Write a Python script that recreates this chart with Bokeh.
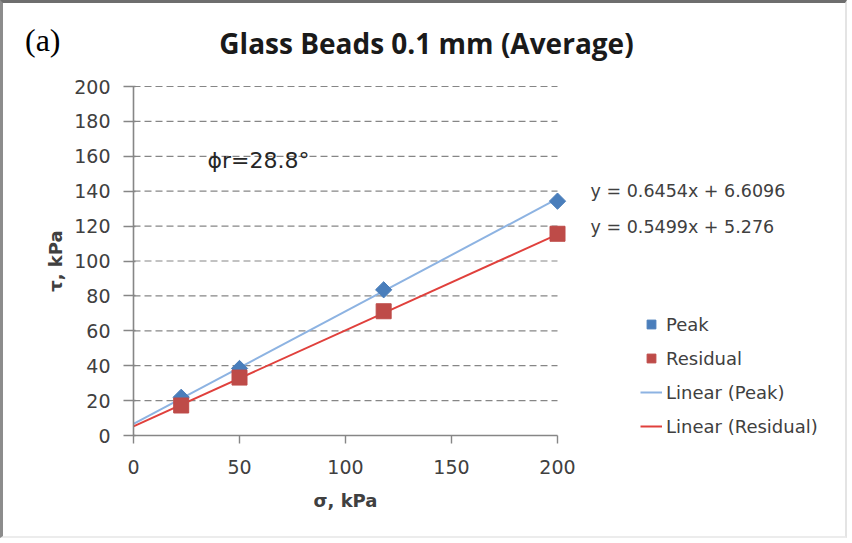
import math

from bokeh.embed import file_html
from bokeh.models import (FixedTicker, Label, Legend, LegendItem, LinearAxis,
                          Range1d)
from bokeh.plotting import figure
from bokeh.resources import INLINE

# Direct shear results, glass beads 0.1 mm (average of tests)
sigma = [22.5, 50.0, 118.0, 200.0]          # normal stress, kPa
tau_peak = [21.9, 38.4, 83.5, 134.3]        # peak shear stress, kPa
tau_residual = [17.2, 33.2, 71.2, 115.6]    # residual shear stress, kPa

# Linear trendlines (slope, intercept)
peak_fit = (0.6454, 6.6096)
residual_fit = (0.5499, 5.276)
fit_x = [0.0, 200.0]

x_ticks = [0, 50, 100, 150, 200]
y_ticks = [0, 20, 40, 60, 80, 100, 120, 140, 160, 180, 200]

BLUE = "#4A7EBB"
RED = "#BE4B48"
BLUE_LINE = "#8DB3E2"
RED_LINE = "#E0403C"
AXIS = "#868686"
TXT = "#404040"
SANS = "DejaVu Sans"

# page frame: borders drawn around the figure element
BL, BT, BR, BB = 3, 3, 2, 2
W, H = 852 - BL - BR, 543 - BT - BB

# plot scale: x 0..200 over 424 px, y 0..200 over 349 px
PX_X = 424 / 200
PX_Y = 349 / 200
FRAME_L = 133 - BL           # left edge of the frame inside the figure
FRAME_B = 435 - BT           # bottom edge of the frame inside the figure
x_end = (W - FRAME_L) / PX_X
y_end = FRAME_B / PX_Y

p = figure(width=W, height=H, output_backend="svg", toolbar_location=None,
           x_range=Range1d(0, x_end), y_range=Range1d(0, y_end),
           min_border_left=FRAME_L, min_border_right=0,
           min_border_top=0, min_border_bottom=H - FRAME_B)
p.styles = {"border-top": f"{BT}px solid #6e6e6e",
            "border-left": f"{BL}px solid #8c8c8c",
            "border-right": f"{BR}px solid #e4e4e4",
            "border-bottom": f"{BB}px solid #ececec"}
p.background_fill_color = "white"
p.border_fill_color = "white"
p.outline_line_color = None

# main axes
for ax in (p.xaxis[0], p.yaxis[0]):
    ax.axis_line_color = AXIS
    ax.axis_line_width = 1.6
    ax.major_tick_line_color = AXIS
    ax.major_tick_line_width = 1.4
    ax.minor_tick_line_color = None
    ax.major_label_text_font = SANS
    ax.major_label_text_font_size = "19px"
    ax.major_label_text_color = TXT
    ax.bounds = (0, 200)

p.xaxis.ticker = FixedTicker(ticks=x_ticks)
p.yaxis.ticker = FixedTicker(ticks=y_ticks)
p.xaxis.major_tick_in = 0
p.xaxis.major_tick_out = 8
p.yaxis.major_tick_in = 2
p.yaxis.major_tick_out = 10
p.xaxis.major_label_standoff = 16
p.yaxis.major_label_standoff = 13


def text_axis(pos, text, standoff, font, size, style="normal", color=TXT,
              orientation="horizontal"):
    """A line-less axis carrying one label centred at a data position."""
    return LinearAxis(ticker=FixedTicker(ticks=[pos]),
                      major_label_overrides={pos: text},
                      axis_line_color=None, major_tick_line_color=None,
                      minor_tick_line_color=None, major_tick_out=0,
                      major_tick_in=0, major_label_standoff=standoff,
                      major_label_text_font=font,
                      major_label_text_font_size=size,
                      major_label_text_font_style=style,
                      major_label_text_color=color,
                      major_label_orientation=orientation)


# axis titles, centred on the data span
x_mid = (x_ticks[0] + x_ticks[-1]) / 2
y_mid = (y_ticks[0] + y_ticks[-1]) / 2
p.add_layout(text_axis(x_mid, "σ, kPa", 13, SANS, "18px", "bold"), "below")
p.add_layout(text_axis(y_mid, "τ, kPa", 6, SANS, "18px", "bold",
                       orientation="vertical"), "left")

# panel tag
p.add_layout(text_axis(226.5, "(a)", -19, "Liberation Serif", "32px",
                       color="black"), "left")

# dashed horizontal gridlines across the data area only
p.xgrid.grid_line_color = None
p.ygrid.grid_line_color = None
grid_y = y_ticks[1:]
p.segment(x0=[x_ticks[0]] * len(grid_y), x1=[x_ticks[-1]] * len(grid_y),
          y0=grid_y, y1=grid_y, line_color=AXIS, line_dash="7 4", line_width=1.2)

# trendlines
peak_y = [peak_fit[0] * x + peak_fit[1] for x in fit_x]
res_y = [residual_fit[0] * x + residual_fit[1] for x in fit_x]
r_lp = p.line(fit_x, peak_y, line_color=BLUE_LINE, line_width=2)
r_lr = p.line(fit_x, res_y, line_color=RED_LINE, line_width=2)

# measured points
r_p = p.scatter(sigma, tau_peak, marker="square", size=11.5, angle=math.pi / 4,
                fill_color=BLUE, line_color=BLUE)
r_r = p.scatter(sigma, tau_residual, marker="square", size=15,
                fill_color=RED, line_color=RED)

legend = Legend(items=[
    LegendItem(label="Peak", renderers=[r_p]),
    LegendItem(label="Residual", renderers=[r_r]),
    LegendItem(label="Linear (Peak)", renderers=[r_lp]),
    LegendItem(label="Linear (Residual)", renderers=[r_lr]),
], location=(507, -2))
legend.border_line_color = None
legend.background_fill_alpha = 0
legend.label_text_font = SANS
legend.label_text_font_size = "18px"
legend.label_text_color = TXT
legend.glyph_width = 22
legend.glyph_height = 22
legend.label_height = 22
legend.spacing = 12
legend.label_standoff = 4
legend.padding = 0
legend.margin = 0
p.add_layout(legend, "center")

# trendline equations
eq_font = dict(text_font=SANS, text_font_size="17.5px", text_color=TXT,
               text_baseline="middle", text_align="left")
p.add_layout(Label(x=215.6, y=140.4,
                   text=f"y = {peak_fit[0]}x + {peak_fit[1]}", **eq_font))
p.add_layout(Label(x=215.6, y=119.2,
                   text=f"y = {residual_fit[0]}x + {residual_fit[1]}", **eq_font))

# residual friction angle
p.add_layout(Label(x=34.9, y=157.6, text="ϕr=28.8°", text_font=SANS,
                   text_font_size="22px", text_color="#262626",
                   text_baseline="middle", text_align="left"))

# chart title
p.add_layout(Label(x=138.2, y=225.0, text="Glass Beads 0.1 mm (Average)",
                   text_font="Open Sans", text_font_style="bold",
                   text_font_size="28px", text_color="#1a1a1a",
                   text_baseline="middle", text_align="center"))

open("out.html", "w").write(file_html(p, INLINE))
